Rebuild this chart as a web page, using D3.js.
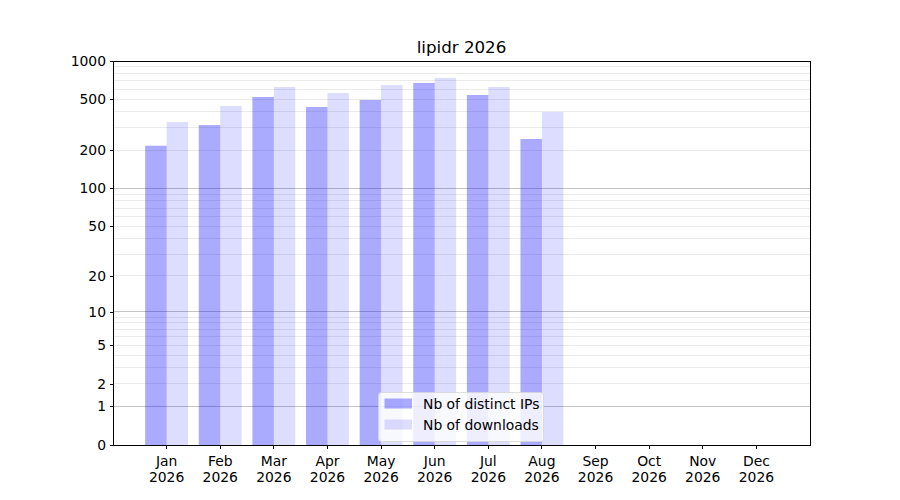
<!DOCTYPE html>
<html>
<head>
<meta charset="utf-8">
<script src="https://cdn.jsdelivr.net/npm/d3@7"></script>
<style>
  body { margin: 0; background: #fff; }
  text { font-family: "DejaVu Sans", sans-serif; fill: #000; }
</style>
</head>
<body>
<div class="container"></div>
<script>
const months = ["Jan", "Feb", "Mar", "Apr", "May", "Jun", "Jul", "Aug", "Sep", "Oct", "Nov", "Dec"];
const year = "2026";
const distinctIPs = [217, 315, 523, 437, 496, 674, 542, 245];
const downloads = [333, 445, 626, 562, 650, 737, 626, 399];
const yTicks = [0, 1, 2, 5, 10, 20, 50, 100, 200, 500, 1000];
const majorGrid = [1, 10, 100];
const minorGrid = [2, 3, 4, 5, 6, 7, 8, 9, 20, 30, 40, 50, 60, 70, 80, 90, 200, 300, 400, 500, 600, 700, 800, 900];
const seriesNames = ["Nb of distinct IPs", "Nb of downloads"];

const width = 900;
const height = 500;
const margin = {top: 61, right: 90, bottom: 55, left: 113};

const x = d3.scaleBand()
    .domain(months)
    .range([margin.left, width - margin.right])
    .paddingInner(0)
    .paddingOuter(0.5);

const y = d3.scaleSymlog()
    .constant(1)
    .domain([0, 1000])
    .range([height - margin.bottom, margin.top]);

const barW = x.step() * 0.4;
const mid = m => x(m) + x.bandwidth() / 2;

const svg = d3.select(".container")
    .append("svg")
    .attr("width", width)
    .attr("height", height)
    .style("display", "block");

// grid lines, minor first then major
svg.append("g")
    .attr("shape-rendering", "crispEdges")
  .selectAll("line")
  .data(minorGrid)
  .join("line")
    .attr("x1", margin.left)
    .attr("x2", width - margin.right)
    .attr("y1", d => y(d))
    .attr("y2", d => y(d))
    .attr("stroke", "#ebebeb")
    .attr("stroke-width", 1);

svg.append("g")
    .attr("shape-rendering", "crispEdges")
  .selectAll("line")
  .data(majorGrid)
  .join("line")
    .attr("x1", margin.left)
    .attr("x2", width - margin.right)
    .attr("y1", d => y(d))
    .attr("y2", d => y(d))
    .attr("stroke", "#c4c4c4")
    .attr("stroke-width", 1);

// bars
svg.append("g")
  .selectAll("rect")
  .data(distinctIPs)
  .join("rect")
    .attr("x", (d, i) => mid(months[i]) - barW)
    .attr("width", barW)
    .attr("y", d => y(d))
    .attr("height", d => y(0) - y(d))
    .attr("fill", "blue")
    .attr("fill-opacity", 0.333);

svg.append("g")
  .selectAll("rect")
  .data(downloads)
  .join("rect")
    .attr("x", (d, i) => mid(months[i]))
    .attr("width", barW)
    .attr("y", d => y(d))
    .attr("height", d => y(0) - y(d))
    .attr("fill", "blue")
    .attr("fill-opacity", 0.133);

// axes
const xAxis = svg.append("g")
    .attr("transform", `translate(0,${height - margin.bottom})`)
    .call(d3.axisBottom(x).tickSize(3.5).tickPadding(3.5).tickFormat(() => ""));

xAxis.selectAll(".tick text").remove();
xAxis.selectAll(".tick")
  .append("text")
    .attr("text-anchor", "middle")
    .style("font-size", "13.9px")
    .selectAll("tspan")
    .data(d => [d, year])
    .join("tspan")
      .attr("x", 0)
      .attr("y", (d, i) => 21 + i * 16)
      .text(d => d);

svg.append("g")
    .attr("transform", `translate(${margin.left},0)`)
    .call(d3.axisLeft(y).tickValues(yTicks).tickSize(3.5).tickPadding(3.5).tickFormat(d3.format("d")))
    .selectAll(".tick text")
    .style("font-size", "13.9px");

svg.selectAll(".domain").remove();
svg.selectAll(".tick line")
    .attr("stroke", "#000")
    .attr("stroke-width", 1)
    .attr("shape-rendering", "crispEdges");

svg.append("rect")
    .attr("x", margin.left)
    .attr("y", margin.top)
    .attr("width", width - margin.left - margin.right)
    .attr("height", height - margin.top - margin.bottom)
    .attr("fill", "none")
    .attr("stroke", "#000")
    .attr("stroke-width", 1)
    .attr("shape-rendering", "crispEdges");

// title
svg.append("text")
    .attr("x", (margin.left + width - margin.right) / 2)
    .attr("y", 52.5)
    .attr("text-anchor", "middle")
    .style("font-size", "16.7px")
    .text("lipidr 2026");

// legend
const legend = svg.append("g")
    .attr("transform", "translate(378.5,392.5)");

legend.append("rect")
    .attr("width", 165)
    .attr("height", 49)
    .attr("rx", 3)
    .attr("fill", "#fff")
    .attr("fill-opacity", 0.8)
    .attr("stroke", "#d6d6d6")
    .attr("stroke-width", 0.8);

const entry = legend.selectAll("g.entry")
  .data(seriesNames)
  .join("g")
    .attr("class", "entry")
    .attr("transform", (d, i) => `translate(6,${6 + i * 21})`);

entry.append("rect")
    .attr("width", 27.5)
    .attr("height", 10)
    .attr("fill", "blue")
    .attr("fill-opacity", (d, i) => i === 0 ? 0.333 : 0.133);

entry.append("text")
    .attr("x", 38.5)
    .attr("y", 10.5)
    .style("font-size", "13.9px")
    .text(d => d);
</script>
</body>
</html>
